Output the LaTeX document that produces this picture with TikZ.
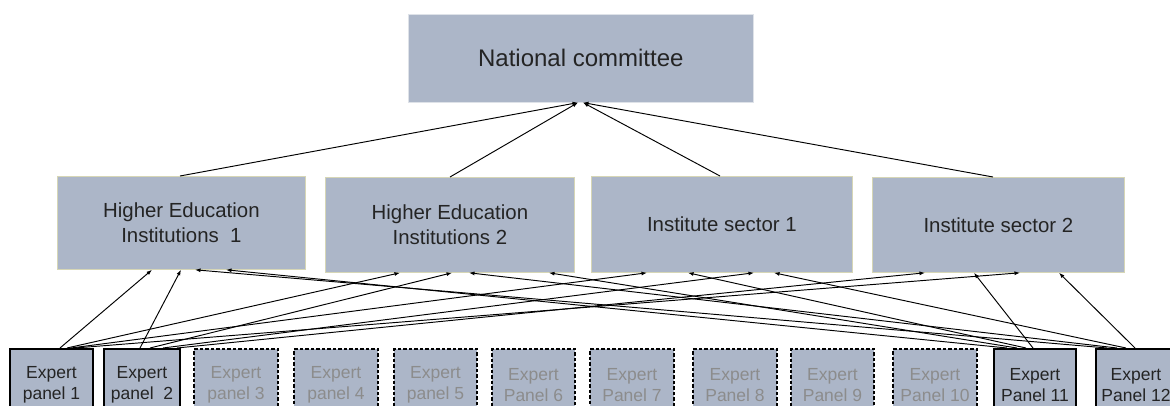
\documentclass[tikz,border=0pt]{standalone}
\usepackage{fontspec}
\setmainfont{Liberation Sans}
\usetikzlibrary{arrows.meta}
\definecolor{boxfill}{RGB}{172,182,200}
\definecolor{lvlborder}{RGB}{214,214,182}
\definecolor{natborder}{RGB}{222,226,232}
\definecolor{txtdark}{RGB}{36,36,36}
\definecolor{txtgray}{RGB}{140,140,140}
\tikzset{
  natbox/.style={draw=natborder, fill=boxfill, line width=0.6pt, anchor=north west, inner sep=0pt,
    text=txtdark, font=\fontsize{24}{29}\selectfont},
  lvlbox/.style={draw=lvlborder, fill=boxfill, line width=0.8pt, anchor=north west, inner sep=0pt,
    align=center, text=txtdark, font=\fontsize{20.4}{25}\selectfont},
  panelbox/.style={draw=black, fill=boxfill, line width=2pt, anchor=north west, inner sep=0pt,
    minimum height=72pt, align=center, text=txtdark, font=\fontsize{17.5}{21.5}\selectfont},
  dashpanel/.style={panelbox, dash pattern=on 3.5pt off 2pt, text=txtgray},
  arr/.style={draw=black, line width=0.95pt, -{Latex[length=5.5pt,width=4pt]}}
}
\begin{document}
\begin{tikzpicture}[x=1pt,y=-1pt]
\useasboundingbox (0,0) rectangle (1170,406);
\clip (0,0) rectangle (1170,406);
% top
\node[natbox, minimum width=345pt, minimum height=88pt] (nat) at (408,14) {National committee};
% level 2
\node[lvlbox, minimum width=248pt, minimum height=93pt] (h1) at (57,176) {Higher Education\\Institutions~~1};
\node[lvlbox, minimum width=249pt, minimum height=95pt] (h2) at (325,177) {Higher Education\\Institutions 2};
\node[lvlbox, minimum width=261pt, minimum height=96pt] (s1) at (591,176) {Institute sector 1};
\node[lvlbox, minimum width=252pt, minimum height=95pt] (s2) at (872,177) {Institute sector 2};
% panels
\node[panelbox, minimum width=83pt] (p1) at (9,348) {Expert\\panel 1};
\node[panelbox, minimum width=76pt] (p2) at (103,348) {Expert\\panel~~2};
\node[dashpanel, minimum width=84pt] (p3) at (193,348) {Expert\\panel 3};
\node[dashpanel, minimum width=84pt] (p4) at (293,348) {Expert\\panel 4};
\node[dashpanel, minimum width=83pt] (p5) at (393,348) {Expert\\panel 5};
\node[dashpanel, minimum width=83pt] (p6) at (491,348) {Expert\\Panel 6};
\node[dashpanel, minimum width=84pt] (p7) at (589,348) {Expert\\Panel 7};
\node[dashpanel, minimum width=84pt] (p8) at (692,348) {Expert\\Panel 8};
\node[dashpanel, minimum width=83pt] (p9) at (790,348) {Expert\\Panel 9};
\node[dashpanel, minimum width=84pt] (p10) at (892,348) {Expert\\Panel 10};
\node[panelbox, minimum width=82pt] (p11) at (993,348) {Expert\\Panel 11};
\node[panelbox, minimum width=80pt] (p12) at (1095,348) {Expert\\Panel 12};
% level 2 to national committee
\draw[arr] ([xshift=123pt]h1.north west) -- ([xshift=170pt]nat.south west);
\draw[arr] ([xshift=125pt]h2.north west) -- ([xshift=170pt]nat.south west);
\draw[arr] ([xshift=129pt]s1.north west) -- ([xshift=175pt]nat.south west);
\draw[arr] ([xshift=121pt]s2.north west) -- ([xshift=175pt]nat.south west);
% panel 1
\draw[arr] ([xshift=51pt]p1.north west) -- ([xshift=95pt]h1.south west);
\draw[arr] ([xshift=58pt]p1.north west) -- ([xshift=75pt]h2.south west);
\draw[arr] ([xshift=62pt]p1.north west) -- ([xshift=56pt]s1.south west);
\draw[arr] ([xshift=66pt]p1.north west) -- ([xshift=148pt]s2.south west);
% panel 2
\draw[arr] ([xshift=37pt]p2.north west) -- ([xshift=124pt]h1.south west);
\draw[arr] ([xshift=47pt]p2.north west) -- ([xshift=127pt]h2.south west);
\draw[arr] ([xshift=60pt]p2.north west) -- ([xshift=163pt]s1.south west);
\draw[arr] ([xshift=74pt]p2.north west) -- ([xshift=53pt]s2.south west);
% panel 11
\draw[arr] ([xshift=40pt]p11.north west) -- ([xshift=102pt]s2.south west);
\draw[arr] ([xshift=33pt]p11.north west) -- ([xshift=97pt]s1.south west);
\draw[arr] ([xshift=24pt]p11.north west) -- ([xshift=224pt]h2.south west);
\draw[arr] ([xshift=14pt]p11.north west) -- ([xshift=169pt]h1.south west);
% panel 12
\draw[arr] ([xshift=40pt]p12.north west) -- ([xshift=187pt]s2.south west);
\draw[arr] ([xshift=31pt]p12.north west) -- ([xshift=183pt]s1.south west);
\draw[arr] ([xshift=22pt]p12.north west) -- ([xshift=144pt]h2.south west);
\draw[arr] ([xshift=12pt]p12.north west) -- ([xshift=138pt]h1.south west);
\end{tikzpicture}
\end{document}
